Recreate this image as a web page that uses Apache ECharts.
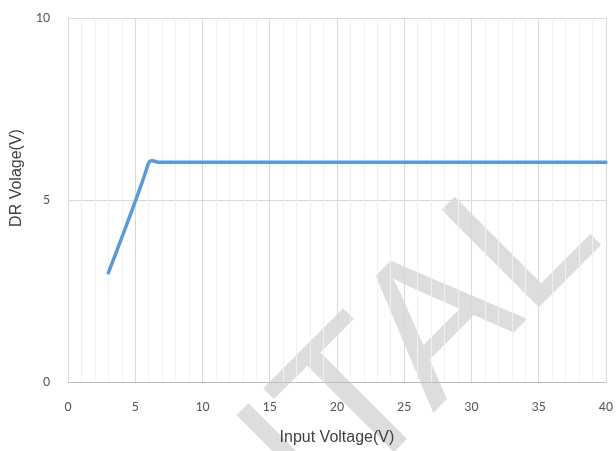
<!DOCTYPE html>
<html>
<head>
<meta charset="utf-8">
<script src="https://cdn.jsdelivr.net/npm/echarts@6/dist/echarts.min.js"></script>
<style>
html,body{margin:0;padding:0;background:#fff;}
#chart{width:616px;height:451px;}
</style>
</head>
<body>
<div id="chart"></div>
<script>
// Data
const inputVoltage = [3, 3.5, 4, 4.5, 5, 5.5, 5.8, 6.0, 6.2, 6.4, 6.7, 7, 8, 10, 15, 20, 25, 30, 35, 40];
const drVoltage   = [3.0, 3.48, 3.97, 4.46, 4.96, 5.47, 5.8, 6.02, 6.08, 6.07, 6.04, 6.04, 6.04, 6.04, 6.04, 6.04, 6.04, 6.04, 6.04, 6.04];
const xTicks = [0, 5, 10, 15, 20, 25, 30, 35, 40];
const yTicks = [0, 5, 10];
const xTitle = 'Input Voltage(V)';
const yTitle = 'DR Volage(V)';
const watermark = 'NTAL';

const points = inputVoltage.map((x, i) => [x, drVoltage[i]]);
const tickFont = 'Carlito, Lato, "Liberation Sans", sans-serif';
const titleFont = '"Liberation Sans", Arial, sans-serif';

const chart = echarts.init(document.getElementById('chart'), null, {renderer: 'canvas'});
chart.setOption({
  backgroundColor: '#ffffff',
  animation: false,
  grid: {left: 68, right: 10, top: 18, bottom: 68, containLabel: false},
  graphic: [{
    type: 'text',
    z: -5,
    silent: true,
    x: 567, y: 201,
    rotation: Math.PI / 4,
    style: {
      text: watermark,
      font: '200px "Liberation Sans", Arial, sans-serif',
      fill: 'rgba(170,170,170,0.4)',
      align: 'right',
      verticalAlign: 'middle'
    }
  }],
  xAxis: {
    type: 'value',
    min: xTicks[0], max: xTicks[xTicks.length - 1], interval: 5,
    name: xTitle,
    nameLocation: 'middle',
    nameGap: 48,
    nameTextStyle: {fontFamily: titleFont, fontSize: 16, color: '#404040'},
    axisLine: {show: true, lineStyle: {color: '#bfbfbf', width: 1}},
    axisTick: {show: false},
    axisLabel: {margin: 18, fontFamily: tickFont, fontSize: 14, color: '#595959'},
    splitLine: {show: true, lineStyle: {color: '#d9d9d9', width: 1}},
    minorTick: {show: false, splitNumber: 5},
    minorSplitLine: {show: true, lineStyle: {color: '#f0f0f0', width: 1}}
  },
  yAxis: {
    type: 'value',
    min: yTicks[0], max: yTicks[yTicks.length - 1], interval: 5,
    name: yTitle,
    nameLocation: 'middle',
    nameGap: 40,
    nameRotate: 90,
    nameTextStyle: {fontFamily: titleFont, fontSize: 16, color: '#404040', padding: [0, 0, 0, 44]},
    axisLine: {show: false},
    axisTick: {show: false},
    axisLabel: {margin: 18, fontFamily: tickFont, fontSize: 14, color: '#595959'},
    splitLine: {show: true, lineStyle: {color: '#d9d9d9', width: 1}}
  },
  series: [{
    type: 'line',
    data: points,
    smooth: 0.25,
    showSymbol: false,
    symbol: 'none',
    lineStyle: {color: '#5b9bd5', width: 3.5, cap: 'round', join: 'round'},
    z: 5
  }]
});
</script>
</body>
</html>
